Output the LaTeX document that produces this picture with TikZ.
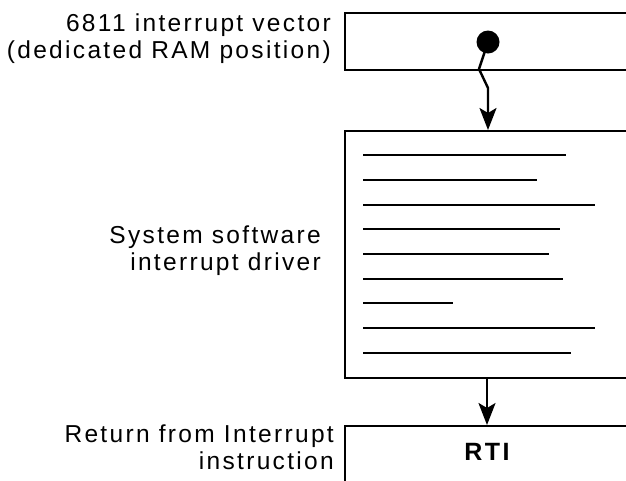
\documentclass[tikz,border=0pt]{standalone}
\usepackage{fontspec}
\setmainfont{Liberation Sans}[LetterSpace=9.5]
\usetikzlibrary{arrows.meta}
\begin{document}
\begin{tikzpicture}[x=1pt,y=-1pt,
  lw/.style={line width=2.4pt},
  box/.style={draw,lw,anchor=north west,inner sep=0pt},
  lab/.style={align=right,anchor=base east,font=\fontsize{24.5}{26.5}\selectfont,inner sep=0pt},
  arr/.style={lw,-{Stealth[length=22pt,width=17pt,inset=5pt]}},
  txtline/.style={lw}]
\useasboundingbox (0,0) rectangle (626,480);
\clip (0,0) rectangle (626,480);
% boxes
\node[box,minimum width=320pt,minimum height=57pt] (vecbox) at (344,12) {};
\node[box,minimum width=320pt,minimum height=247pt] (drv) at (344,130) {};
\node[box,minimum width=320pt,minimum height=80pt] (rtibox) at (344,425) {};
% labels (base anchor = last line's baseline)
\node[lab] (l1) at (331,58) {6811 interrupt vector\\(dedicated RAM position)};
\node[lab] (l2) at (321,270) {System software\\interrupt driver};
\node[lab] (l3) at (334,469) {Return from Interrupt\\instruction};
\node[font=\fontsize{25}{26.5}\selectfont\bfseries,anchor=base,inner sep=0pt] (rti) at (487,460) {RTI};
% vector dot and pointer
\node[circle,fill,minimum size=23pt,inner sep=0pt] (dot) at (488,42) {};
\coordinate (k1) at (479,69);
\coordinate (k2) at (488,88);
\draw[arr,line join=round] (dot.center) -- (k1) -- (k2) -- (k2 |- drv.north);
% code lines
\foreach \y/\e in {155/566,180/537,205/595,229/560,254/549,279/563,303/453,328/595,353/571}
  \draw[txtline] (363,\y) -- (\e,\y);
% arrow to RTI
\draw[arr] (drv.south -| rti) -- (rtibox.north -| rti);
\end{tikzpicture}
\end{document}
